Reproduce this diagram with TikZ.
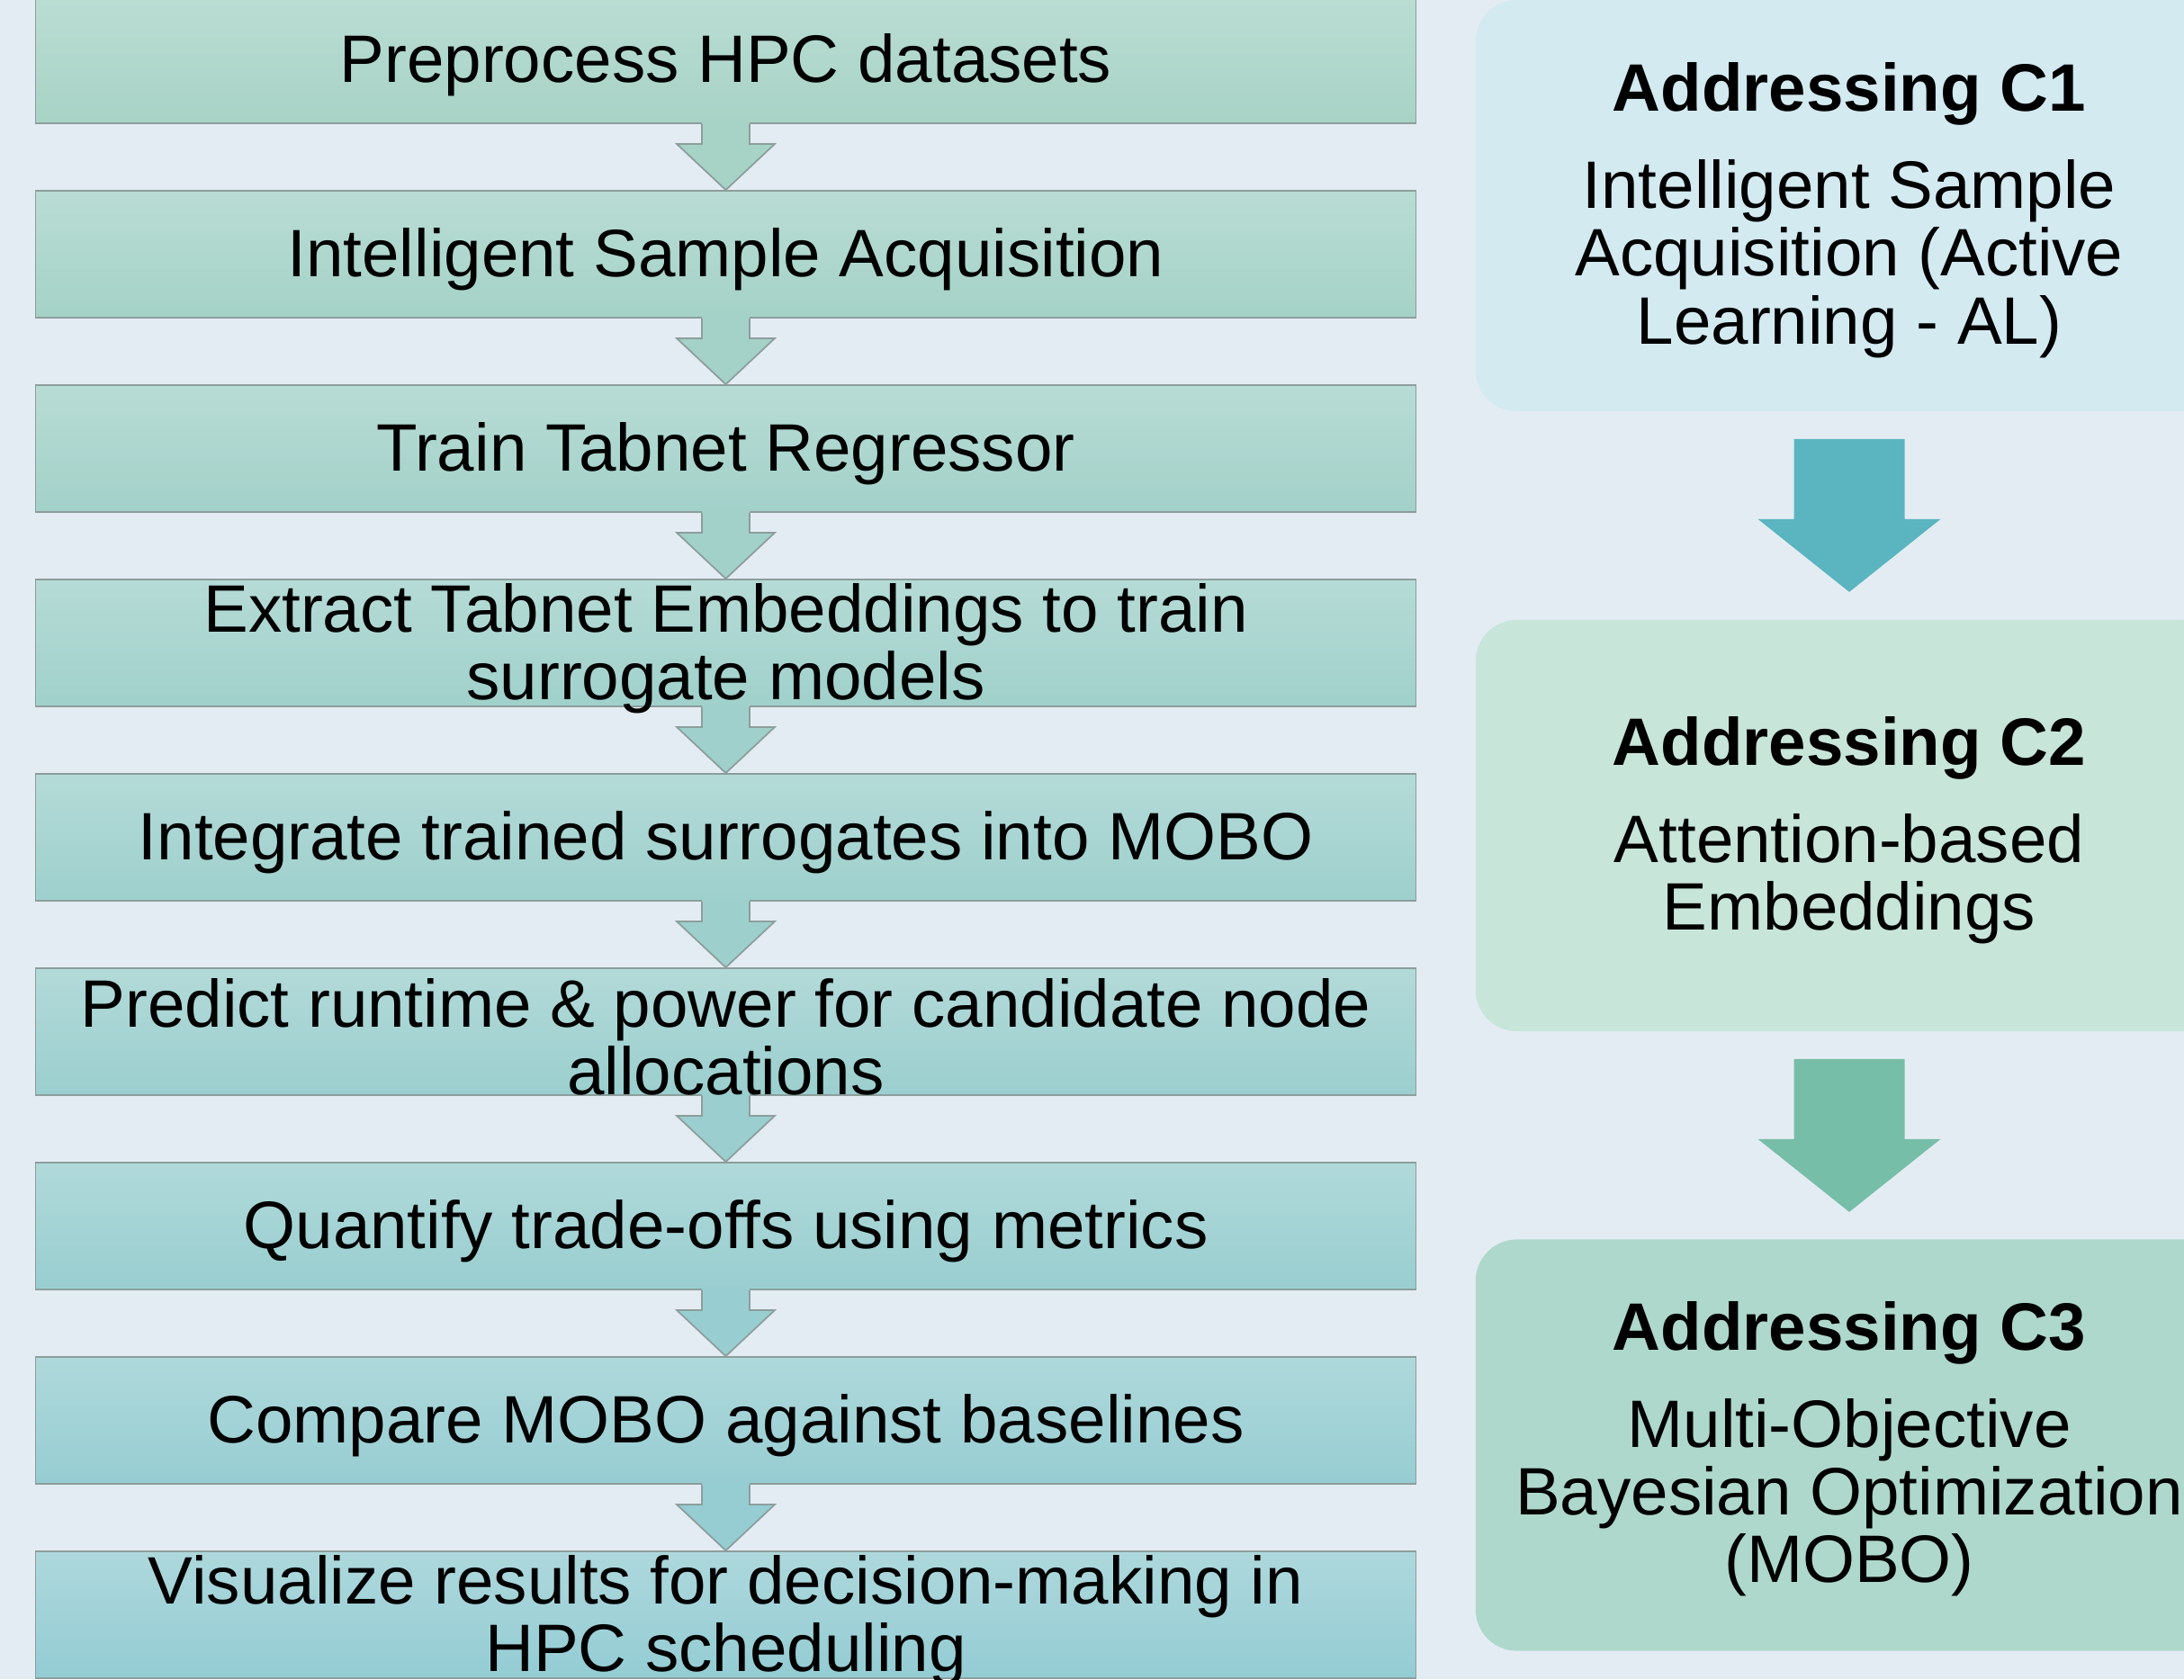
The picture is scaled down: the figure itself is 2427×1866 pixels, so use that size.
\documentclass[tikz,border=0pt]{standalone}
\usepackage{fontspec}
\setmainfont{Liberation Sans}
\usetikzlibrary{calc}
\definecolor{bgc}{RGB}{228,236,243}
\definecolor{topA}{RGB}{187,221,211}
\definecolor{botA}{RGB}{167,211,197}
\definecolor{topB}{RGB}{173,216,220}
\definecolor{botB}{RGB}{148,204,212}
\definecolor{cone}{RGB}{211,234,241}
\definecolor{ctwo}{RGB}{200,229,218}
\definecolor{cthree}{RGB}{174,216,203}
\definecolor{arrone}{RGB}{90,181,192}
\definecolor{arrtwo}{RGB}{119,190,169}
\definecolor{edgec}{RGB}{140,158,156}
\newcommand\flowarr[3]{%
  \fill[#3] ($(#1.south)+(-26.5,-2)$) -- ($(#1.south)+(-26.5,22)$) -- ($(#1.south)+(-54.5,22)$)
    -- (#2.north) -- ($(#1.south)+(54.5,22)$) -- ($(#1.south)+(26.5,22)$) -- ($(#1.south)+(26.5,-2)$) -- cycle;
  \draw[edgec,line width=0.5pt,line join=miter] ($(#1.south)+(-26.5,0)$) -- ($(#1.south)+(-26.5,22)$) -- ($(#1.south)+(-54.5,22)$)
    -- (#2.north) -- ($(#1.south)+(54.5,22)$) -- ($(#1.south)+(26.5,22)$) -- ($(#1.south)+(26.5,0)$);}
\newcommand\bigarr[3]{%
  \fill[#3] ($(#1.south)+(-61.5,30)$) -- ($(#1.south)+(-61.5,119)$) -- ($(#1.south)+(-101.5,119)$)
    -- ($(#1.south)+(0,200)$) -- ($(#1.south)+(101.5,119)$) -- ($(#1.south)+(61.5,119)$) -- ($(#1.south)+(61.5,30)$) -- cycle;}
\newcommand\boxtext[3]{\node[txt] (#2) at ($(#1.center)+(0,#3)$)}
\begin{document}
\begin{tikzpicture}[x=0.01cm,y=-0.01cm,
  txt/.style={font=\fontsize{21.2pt}{21.4pt}\selectfont, align=center, text=black, inner sep=0pt},
  lbox/.style={rectangle, minimum width=15.33cm, minimum height=1.41cm, inner sep=0pt,
    top color=topA!#1!topB, bottom color=botA!#1!botB, draw=edgec, line width=0.5pt},
  rbox/.style={rectangle, rounded corners=0.46cm, minimum width=8.3cm, minimum height=4.57cm,
    inner sep=0pt, fill=#1}]
\useasboundingbox (0,0) rectangle (2427,1866);
\fill[bgc] (0,0) rectangle (2427,1866);
\clip (0,0) rectangle (2427,1866);
% left flow boxes
\node[lbox=100]  (b1) at (806.5,66.5)   {};
\node[lbox=87.5] (b2) at (806.5,282.5)  {};
\node[lbox=75]   (b3) at (806.5,498.5)  {};
\node[lbox=62.5] (b4) at (806.5,714.5)  {};
\node[lbox=50]   (b5) at (806.5,930.5)  {};
\node[lbox=37.5] (b6) at (806.5,1146.5) {};
\node[lbox=25]   (b7) at (806.5,1362.5) {};
\node[lbox=12.5] (b8) at (806.5,1578.5) {};
\node[lbox=0]    (b9) at (806.5,1794.5) {};
\flowarr{b1}{b2}{botA!95!botB}
\flowarr{b2}{b3}{botA!82!botB}
\flowarr{b3}{b4}{botA!70!botB}
\flowarr{b4}{b5}{botA!57!botB}
\flowarr{b5}{b6}{botA!45!botB}
\flowarr{b6}{b7}{botA!32!botB}
\flowarr{b7}{b8}{botA!20!botB}
\flowarr{b8}{b9}{botA!7!botB}
\boxtext{b1}{t1}{6} {Preprocess HPC datasets};
\boxtext{b2}{t2}{6} {Intelligent Sample Acquisition};
\boxtext{b3}{t3}{6} {Train Tabnet Regressor};
\boxtext{b4}{t4}{6} {Extract Tabnet Embeddings to train\\surrogate models};
\boxtext{b5}{t5}{6} {Integrate trained surrogates into MOBO};
\boxtext{b6}{t6}{6} {Predict runtime \& power for candidate node\\allocations};
\boxtext{b7}{t7}{6} {Quantify trade-offs using metrics};
\boxtext{b8}{t8}{6} {Compare MOBO against baselines};
\boxtext{b9}{t9}{6} {Visualize results for decision-making in\\HPC scheduling};
% right column
\node[rbox=cone]   (c1) at (2055,228.5)  {};
\node[rbox=ctwo]   (c2) at (2055,917.5)  {};
\node[rbox=cthree] (c3) at (2055,1606)   {};
\bigarr{c1}{c2}{arrone}
\bigarr{c2}{c3}{arrtwo}
\boxtext{c1}{s1}{5} {\textbf{Addressing C1}\\[9.3pt]Intelligent Sample\\Acquisition (Active\\Learning - AL)};
\boxtext{c2}{s2}{5} {\textbf{Addressing C2}\\[9.3pt]Attention-based\\Embeddings};
\boxtext{c3}{s3}{4} {\textbf{Addressing C3}\\[9.3pt]Multi-Objective\\Bayesian Optimization\\(MOBO)};
\end{tikzpicture}
\end{document}
